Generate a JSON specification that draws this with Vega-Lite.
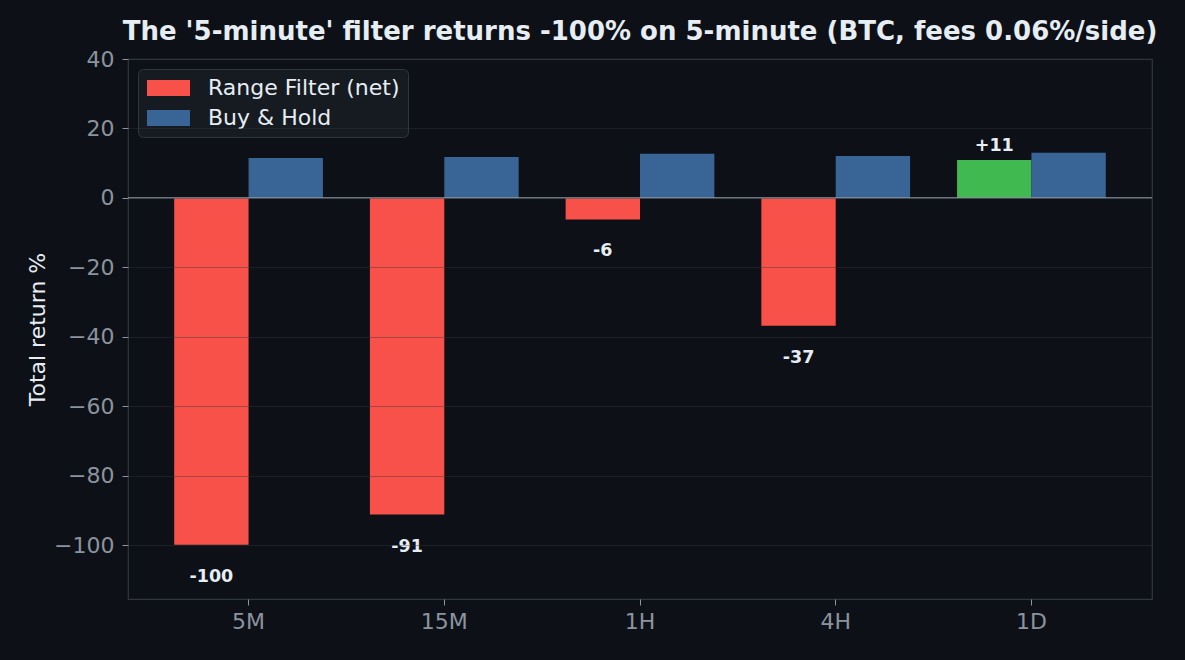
{
  "$schema": "https://vega.github.io/schema/vega-lite/v6.json",
  "background": "#0d1117",
  "autosize": {"type": "none"},
  "padding": {"left": 128, "top": 59, "right": 33, "bottom": 61},
  "width": 1024,
  "height": 540,
  "title": {
    "text": "The '5-minute' filter returns -100% on 5-minute (BTC, fees 0.06%/side)",
    "font": "DejaVu Sans",
    "fontSize": 26,
    "fontWeight": "bold",
    "color": "#e6edf3",
    "anchor": "middle",
    "offset": 3
  },
  "config": {
    "font": "DejaVu Sans",
    "view": {"stroke": "#30363d", "strokeWidth": 1.2, "fill": "#0d1117"}
  },
  "data": {
    "values": [
      {"timeframe": "5M", "series": "Range Filter (net)", "value": -99.9},
      {"timeframe": "5M", "series": "Buy & Hold", "value": 11.5},
      {"timeframe": "15M", "series": "Range Filter (net)", "value": -91.2},
      {"timeframe": "15M", "series": "Buy & Hold", "value": 11.8},
      {"timeframe": "1H", "series": "Range Filter (net)", "value": -6.2},
      {"timeframe": "1H", "series": "Buy & Hold", "value": 12.7},
      {"timeframe": "4H", "series": "Range Filter (net)", "value": -36.8},
      {"timeframe": "4H", "series": "Buy & Hold", "value": 12.1},
      {"timeframe": "1D", "series": "Range Filter (net)", "value": 10.9},
      {"timeframe": "1D", "series": "Buy & Hold", "value": 13.0}
    ]
  },
  "layer": [
    {
      "mark": {"type": "bar"},
      "encoding": {
        "x": {
          "field": "timeframe",
          "type": "nominal",
          "sort": ["5M", "15M", "1H", "4H", "1D"],
          "scale": {"paddingInner": 0.24, "paddingOuter": 0.236},
          "axis": {
            "title": null,
            "labelAngle": 0,
            "labelColor": "#8b949e",
            "labelFontSize": 22,
            "labelPadding": 6,
            "tickColor": "#8b949e",
            "tickSize": 6,
            "domain": false,
            "grid": false
          }
        },
        "xOffset": {
          "field": "series",
          "sort": ["Range Filter (net)", "Buy & Hold"],
          "scale": {"paddingInner": 0, "paddingOuter": 0}
        },
        "y": {
          "field": "value",
          "type": "quantitative",
          "scale": {"domain": [-115.5, 40], "nice": false, "zero": false},
          "axis": {
            "title": "Total return %",
            "titleColor": "#e6edf3",
            "titleFontSize": 22,
            "titleFontWeight": "normal",
            "titlePadding": 4,
            "values": [-100, -80, -60, -40, -20, 0, 20, 40],
            "labelColor": "#8b949e",
            "labelFontSize": 22,
            "labelPadding": 8,
            "tickColor": "#8b949e",
            "tickSize": 6,
            "domain": false,
            "grid": true,
            "gridColor": "#30363d",
            "gridOpacity": 0.4,
            "gridWidth": 1,
            "zindex": 1
          }
        },
        "color": {
          "condition": {
            "test": "datum.series === 'Range Filter (net)' && datum.value > 0",
            "value": "#3fb950"
          },
          "field": "series",
          "type": "nominal",
          "sort": ["Range Filter (net)", "Buy & Hold"],
          "scale": {
            "domain": ["Range Filter (net)", "Buy & Hold"],
            "range": ["#f85149", "#386496"]
          },
          "legend": {
            "title": null,
            "orient": "top-left",
            "offset": 10,
            "fillColor": "#161b22",
            "strokeColor": "#30363d",
            "cornerRadius": 5,
            "padding": 8,
            "labelColor": "#e6edf3",
            "labelFontSize": 22,
            "labelLimit": 400,
            "labelOffset": 40,
            "symbolType": "M-1.25,-1H4.125V1H-1.25Z",
            "symbolSize": 256,
            "symbolStrokeWidth": 0,
            "symbolOpacity": 1,
            "rowPadding": 8
          }
        }
      }
    },
    {
      "data": {"values": [{"zero": 0}]},
      "mark": {"type": "rule", "color": "#8b949e", "strokeWidth": 1.3},
      "encoding": {
        "y": {"field": "zero", "type": "quantitative"}
      }
    },
    {
      "transform": [
        {"filter": "datum.series === 'Range Filter (net)' && datum.value < 0"},
        {"calculate": "replace(format(datum.value, '+.0f'), '\u2212', '-')", "as": "label"}
      ],
      "mark": {
        "type": "text",
        "baseline": "middle",
        "dy": 32,
        "fontWeight": "bold",
        "fontSize": 17.5,
        "color": "#e6edf3"
      },
      "encoding": {
        "x": {"field": "timeframe", "type": "nominal", "sort": ["5M", "15M", "1H", "4H", "1D"]},
        "xOffset": {"field": "series", "sort": ["Range Filter (net)", "Buy & Hold"]},
        "y": {"field": "value", "type": "quantitative"},
        "text": {"field": "label", "type": "nominal"}
      }
    },
    {
      "transform": [
        {"filter": "datum.series === 'Range Filter (net)' && datum.value >= 0"},
        {"calculate": "replace(format(datum.value, '+.0f'), '\u2212', '-')", "as": "label"}
      ],
      "mark": {
        "type": "text",
        "baseline": "middle",
        "dy": -14,
        "fontWeight": "bold",
        "fontSize": 17.5,
        "color": "#e6edf3"
      },
      "encoding": {
        "x": {"field": "timeframe", "type": "nominal", "sort": ["5M", "15M", "1H", "4H", "1D"]},
        "xOffset": {"field": "series", "sort": ["Range Filter (net)", "Buy & Hold"]},
        "y": {"field": "value", "type": "quantitative"},
        "text": {"field": "label", "type": "nominal"}
      }
    }
  ]
}
